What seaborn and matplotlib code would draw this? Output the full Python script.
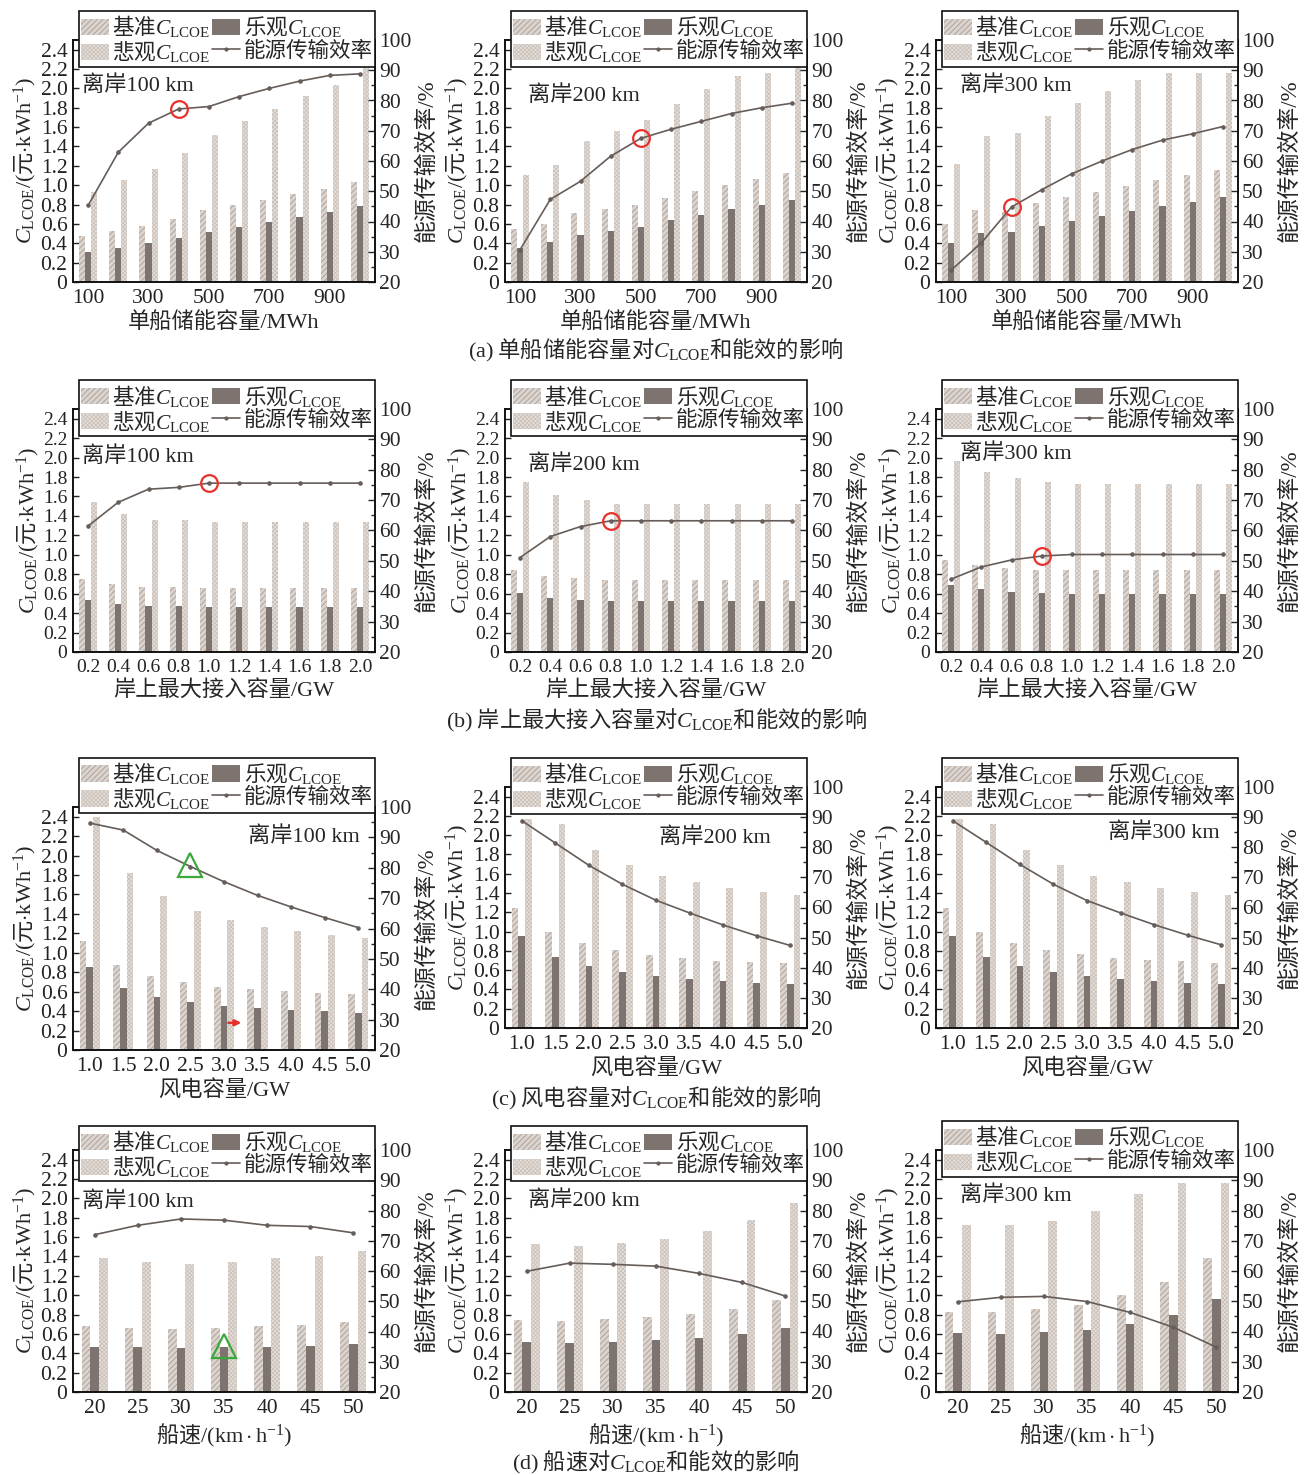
import numpy as np
import pandas as pd
import matplotlib
matplotlib.use("Agg")
import matplotlib.pyplot as plt
import seaborn as sns
from matplotlib.patches import Patch
from matplotlib.lines import Line2D
from matplotlib.ticker import MultipleLocator, FixedLocator

sns.set_theme(style="ticks")
plt.rcParams["font.family"] = ["Liberation Serif", "Noto Sans CJK SC"]
# strings mixing Chinese and math: the CJK face carries the plain text,
# serif faces carry the math symbols
plt.rcParams["mathtext.fontset"] = "custom"
plt.rcParams["mathtext.rm"] = "Noto Sans CJK SC"
plt.rcParams["mathtext.it"] = "Liberation Serif:italic"
plt.rcParams["mathtext.sf"] = "Liberation Serif"
plt.rcParams["mathtext.bf"] = "Liberation Serif:bold"
plt.rcParams["hatch.linewidth"] = 0.6
plt.rcParams["axes.unicode_minus"] = False
CJK = "Noto Sans CJK SC"

# ---------------- data ----------------
# (a) single-ship storage capacity, MWh
cap_cats = ["100", "200", "300", "400", "500", "600", "700", "800", "900", "1000"]
a1_base = [0.48, 0.53, 0.58, 0.65, 0.74, 0.80, 0.85, 0.91, 0.96, 1.03]
a1_opt = [0.31, 0.35, 0.40, 0.45, 0.52, 0.57, 0.62, 0.67, 0.72, 0.78]
a1_pes = [0.93, 1.05, 1.17, 1.33, 1.52, 1.66, 1.79, 1.92, 2.03, 2.21]
a1_eff = [45.3, 62.9, 72.5, 77.2, 78.0, 81.3, 84.0, 86.4, 88.3, 88.8]

a2_base = [0.55, 0.60, 0.71, 0.75, 0.80, 0.87, 0.94, 1.00, 1.06, 1.13]
a2_opt = [0.35, 0.41, 0.49, 0.53, 0.57, 0.64, 0.69, 0.75, 0.80, 0.85]
a2_pes = [1.11, 1.21, 1.46, 1.56, 1.67, 1.84, 1.99, 2.13, 2.16, 2.43]
a2_eff = [30.7, 47.3, 53.3, 61.6, 67.5, 70.5, 73.1, 75.7, 77.6, 79.1]

a3_base = [0.60, 0.74, 0.72, 0.82, 0.88, 0.93, 0.99, 1.05, 1.11, 1.16]
a3_opt = [0.40, 0.51, 0.52, 0.58, 0.63, 0.68, 0.73, 0.78, 0.83, 0.88]
a3_pes = [1.22, 1.51, 1.54, 1.72, 1.85, 1.97, 2.09, 2.16, 2.16, 2.16]
a3_eff = [23.9, 32.9, 44.8, 50.5, 55.8, 60.0, 63.8, 66.9, 69.0, 71.4]

# (b) maximum onshore grid-access capacity, GW
grid_cats = ["0.2", "0.4", "0.6", "0.8", "1.0", "1.2", "1.4", "1.6", "1.8", "2.0"]
b1_base = [0.75, 0.70, 0.67, 0.67, 0.66, 0.66, 0.66, 0.66, 0.66, 0.66]
b1_opt = [0.53, 0.49, 0.47, 0.47, 0.46, 0.46, 0.46, 0.46, 0.46, 0.46]
b1_pes = [1.54, 1.42, 1.36, 1.36, 1.34, 1.34, 1.34, 1.34, 1.34, 1.34]
b1_eff = [61.5, 69.3, 73.6, 74.2, 75.6, 75.6, 75.6, 75.6, 75.6, 75.6]

b2_base = [0.84, 0.78, 0.76, 0.74, 0.74, 0.74, 0.74, 0.74, 0.74, 0.74]
b2_opt = [0.61, 0.56, 0.54, 0.52, 0.52, 0.52, 0.52, 0.52, 0.52, 0.52]
b2_pes = [1.75, 1.62, 1.56, 1.52, 1.52, 1.52, 1.52, 1.52, 1.52, 1.52]
b2_eff = [51.1, 58.0, 61.3, 63.2, 63.2, 63.2, 63.2, 63.2, 63.2, 63.2]

b3_base = [0.95, 0.89, 0.86, 0.84, 0.84, 0.84, 0.84, 0.84, 0.84, 0.84]
b3_opt = [0.69, 0.65, 0.62, 0.61, 0.60, 0.60, 0.60, 0.60, 0.60, 0.60]
b3_pes = [1.97, 1.85, 1.79, 1.75, 1.73, 1.73, 1.73, 1.73, 1.73, 1.73]
b3_eff = [44.0, 48.0, 50.3, 51.6, 52.1, 52.1, 52.1, 52.1, 52.1, 52.1]

# (c) wind-power capacity, GW
wind_cats = ["1.0", "1.5", "2.0", "2.5", "3.0", "3.5", "4.0", "4.5", "5.0"]
c1_base = [1.12, 0.87, 0.76, 0.70, 0.65, 0.63, 0.61, 0.59, 0.58]
c1_opt = [0.85, 0.64, 0.55, 0.49, 0.45, 0.43, 0.41, 0.40, 0.38]
c1_pes = [2.40, 1.82, 1.58, 1.43, 1.34, 1.27, 1.22, 1.18, 1.15]
c1_eff = [94.7, 92.4, 85.7, 80.4, 75.4, 70.9, 67.1, 63.6, 60.3]

c2_base = [1.24, 1.00, 0.88, 0.81, 0.76, 0.73, 0.70, 0.68, 0.67]
c2_opt = [0.95, 0.74, 0.64, 0.58, 0.54, 0.51, 0.49, 0.47, 0.46]
c2_pes = [2.17, 2.12, 1.85, 1.69, 1.58, 1.51, 1.45, 1.41, 1.38]
c2_eff = [88.8, 81.4, 74.0, 67.7, 62.4, 58.2, 54.2, 50.6, 47.4]

c3_base = [1.24, 1.00, 0.88, 0.81, 0.77, 0.73, 0.71, 0.69, 0.67]
c3_opt = [0.95, 0.74, 0.64, 0.58, 0.54, 0.51, 0.49, 0.47, 0.46]
c3_pes = [2.17, 2.12, 1.85, 1.69, 1.58, 1.51, 1.45, 1.41, 1.38]
c3_eff = [88.8, 81.6, 74.3, 67.7, 62.3, 58.2, 54.3, 50.8, 47.6]

# (d) ship speed, km/h
speed_cats = ["20", "25", "30", "35", "40", "45", "50"]
d1_base = [0.68, 0.66, 0.65, 0.66, 0.68, 0.69, 0.72]
d1_opt = [0.47, 0.46, 0.45, 0.46, 0.47, 0.48, 0.50]
d1_pes = [1.38, 1.34, 1.32, 1.34, 1.38, 1.40, 1.46]
d1_eff = [72.0, 75.1, 77.2, 76.8, 75.1, 74.7, 72.6]

d2_base = [0.74, 0.73, 0.75, 0.77, 0.81, 0.86, 0.95]
d2_opt = [0.52, 0.51, 0.52, 0.54, 0.56, 0.60, 0.66]
d2_pes = [1.53, 1.51, 1.54, 1.58, 1.66, 1.78, 1.95]
d2_eff = [59.9, 62.6, 62.2, 61.6, 59.2, 56.2, 51.7]

d3_base = [0.83, 0.83, 0.86, 0.90, 1.00, 1.14, 1.38]
d3_opt = [0.61, 0.60, 0.62, 0.64, 0.70, 0.80, 0.96]
d3_pes = [1.73, 1.73, 1.77, 1.87, 2.05, 2.16, 2.16]
d3_eff = [49.8, 51.3, 51.6, 49.9, 46.3, 41.4, 34.8]

scenarios = ["基准", "乐观", "悲观"]
distances = ["离岸100 km", "离岸200 km", "离岸300 km"]

# ---------------- style ----------------
base_face, base_hatch = "#dbd3cd", "#a89d95"
opt_face = "#7d7470"
pes_face, pes_hatch = "#e6dfd9", "#cac1ba"
line_color = "#665d59"
CL = r"$C_{\mathsf{LCOE}}$"
YLAB = r"$C_{\mathsf{LCOE}}\mathsf{/(}$元$\mathsf{\cdot kWh}^{\mathsf{-1}}\mathsf{)}$"

W, H = 1306, 1475
fig = plt.figure(figsize=(W / 100, H / 100), dpi=100)

col_left = [73, 505, 936]
ax_w = 302


def make_axes(col, top, bottom):
    return fig.add_axes([col_left[col] / W, 1 - bottom / H, ax_w / W, (bottom - top) / H])


def draw_panel(ax, cats, base, opt, pes, eff, xlabel, xlabel_math, dist, tpos, tha,
               leg_bottom, every=1, tick_fs=15):
    n = len(cats)
    df = pd.concat([
        pd.DataFrame({"cat": cats, "scen": s, "val": v})
        for s, v in zip(scenarios, [base, opt, pes])
    ], ignore_index=True)
    sns.barplot(data=df, x="cat", y="val", hue="scen", order=cats,
                hue_order=scenarios,
                palette={"基准": base_face, "乐观": opt_face, "悲观": pes_face},
                width=0.6, saturation=1, errorbar=None, legend=False, ax=ax)
    styles = [("//////", base_hatch), (None, opt_face), ("xxxxxxxx", pes_hatch)]
    for cont, (hatch, ec) in zip(ax.containers, styles):
        for p in cont:
            if hatch:
                p.set_hatch(hatch)
            p.set_edgecolor(ec)
            p.set_linewidth(0)

    ax.set_ylim(0, 2.5)
    yt = np.round(np.arange(0, 2.41, 0.2), 1)
    ax.yaxis.set_major_locator(FixedLocator(yt))
    ax.set_yticklabels(["0"] + [f"{v:.1f}" for v in yt[1:]])
    ax.set_xticks(range(n))
    ax.set_xticklabels([c if i % every == 0 else "" for i, c in enumerate(cats)])
    ax.set_ylabel(YLAB, fontsize=16, labelpad=1, fontfamily=CJK)
    if xlabel_math:
        ax.set_xlabel(xlabel, fontsize=16, labelpad=3, fontfamily=CJK)
    else:
        ax.set_xlabel(xlabel, fontsize=16, labelpad=3)
    ax.tick_params(axis="both", direction="in", length=4, width=1,
                   labelsize=tick_fs, pad=4, colors="#222222")
    ax.tick_params(axis="x", length=5, pad=5)

    ax2 = ax.twinx()
    sns.lineplot(x=np.arange(n), y=eff, ax=ax2, color=line_color, lw=1.2,
                 marker="o", markersize=2.5, markeredgecolor=line_color)
    ax2.set_ylim(20, 100)
    ax2.yaxis.set_major_locator(MultipleLocator(10))
    ax2.yaxis.set_minor_locator(MultipleLocator(5))
    ax2.tick_params(axis="y", which="major", direction="in", length=5, width=1,
                    labelsize=15.5, pad=3)
    ax2.tick_params(axis="y", which="minor", direction="in", length=3, width=1)
    ax2.set_ylabel("能源传输效率/%", fontsize=16.5, labelpad=3)
    ax.set_xlim(-0.5, n - 0.5)
    ax2.set_xlim(-0.5, n - 0.5)
    for a in (ax, ax2):
        for sp in a.spines.values():
            sp.set_color("#111111")
            sp.set_linewidth(1.2)
            sp.set_visible(True)

    ax.text(tpos[0], tpos[1], dist, transform=ax.transAxes, fontsize=16,
            ha=tha, va="center", zorder=5)

    handles = [
        Patch(facecolor=base_face, edgecolor=base_hatch, hatch="//////", lw=0),
        Patch(facecolor=pes_face, edgecolor=pes_hatch, hatch="xxxxxxxx", lw=0),
        Patch(facecolor=opt_face, edgecolor=opt_face, lw=0),
        Line2D([], [], color=line_color, lw=1.2, marker="o", markersize=2),
    ]
    labels = ["基准" + CL, "悲观" + CL, "乐观" + CL, "能源传输效率"]
    leg = ax2.legend(handles, labels, ncol=2, loc="lower left",
                     bbox_to_anchor=(0.02, leg_bottom),
                     prop={"family": CJK, "size": 15.5},
                     frameon=True, fancybox=False, framealpha=1,
                     edgecolor="#111111", borderpad=0.1, labelspacing=0.0,
                     handlelength=1.3, handleheight=0.8, handletextpad=0.15,
                     columnspacing=0.1, borderaxespad=0)
    leg.get_frame().set_linewidth(1.2)
    leg.set_zorder(10)
    return ax2


def circle(ax2, i, v):
    ax2.plot(i, v, marker="o", markersize=12, markerfacecolor="none",
             markeredgecolor="#e8312a", markeredgewidth=1.6, zorder=6)


rows = [
    ("a", cap_cats, "单船储能容量/MWh", False, 2, [
        (a1_base, a1_opt, a1_pes, a1_eff), (a2_base, a2_opt, a2_pes, a2_eff),
        (a3_base, a3_opt, a3_pes, a3_eff)]),
    ("b", grid_cats, "岸上最大接入容量/GW", False, 1, [
        (b1_base, b1_opt, b1_pes, b1_eff), (b2_base, b2_opt, b2_pes, b2_eff),
        (b3_base, b3_opt, b3_pes, b3_eff)]),
    ("c", wind_cats, "风电容量/GW", False, 1, [
        (c1_base, c1_opt, c1_pes, c1_eff), (c2_base, c2_opt, c2_pes, c2_eff),
        (c3_base, c3_opt, c3_pes, c3_eff)]),
    ("d", speed_cats, r"船速$\mathsf{/(km\cdot h}^{\mathsf{-1}}\mathsf{)}$", True, 1, [
        (d1_base, d1_opt, d1_pes, d1_eff), (d2_base, d2_opt, d2_pes, d2_eff),
        (d3_base, d3_opt, d3_pes, d3_eff)]),
]

frames = {
    "a": [(40, 282), (40, 282), (40, 282)],
    "b": [(409, 652), (409, 652), (409, 652)],
    "c": [(807, 1050), (787, 1028), (787, 1028)],
    "d": [(1150, 1392), (1150, 1392), (1150, 1392)],
}
text_pos = {
    "a": [((0.03, 0.81), "left"), ((0.075, 0.77), "left"), ((0.08, 0.81), "left")],
    "b": [((0.03, 0.805), "left"), ((0.075, 0.77), "left"), ((0.08, 0.815), "left")],
    "c": [((0.95, 0.88), "right"), ((0.88, 0.79), "right"), ((0.94, 0.81), "right")],
    "d": [((0.03, 0.785), "left"), ((0.075, 0.79), "left"), ((0.08, 0.81), "left")],
}
leg_bottoms = {
    "a": [0.89, 0.89, 0.89],
    "b": [0.89, 0.89, 0.89],
    "c": [0.975, 0.89, 0.89],
    "d": [0.87, 0.87, 0.89],
}

twins = {}
for key, cats, xlabel, xmath, every, series in rows:
    for col in range(3):
        top, bottom = frames[key][col]
        ax = make_axes(col, top, bottom)
        b, o, p, e = series[col]
        tp, tha = text_pos[key][col]
        fs = 14 if key == "b" else 15.5
        ax2 = draw_panel(ax, cats, b, o, p, e, xlabel, xmath, distances[col], tp, tha,
                         leg_bottoms[key][col], every=every, tick_fs=fs)
        twins[(key, col)] = (ax, ax2)

# highlighted operating points
circle(twins[("a", 0)][1], 3, a1_eff[3])
circle(twins[("a", 1)][1], 4, a2_eff[4])
circle(twins[("a", 2)][1], 2, a3_eff[2])
circle(twins[("b", 0)][1], 4, b1_eff[4])
circle(twins[("b", 1)][1], 3, b2_eff[3])
circle(twins[("b", 2)][1], 3, b3_eff[3])

c1_ax, c1_ax2 = twins[("c", 0)]
c1_ax2.plot(3, 81.0, marker="^", markersize=17, markerfacecolor="none",
            markeredgecolor="#3aa83a", markeredgewidth=1.6, zorder=6)
c1_ax.annotate("", xy=(4.6, 0.28), xytext=(4.05, 0.28),
               arrowprops=dict(arrowstyle="-|>", color="#e8312a", lw=1.8,
                               mutation_scale=9), zorder=6)
d1_ax, d1_ax2 = twins[("d", 0)]
d1_ax.plot(3, 0.48, marker="^", markersize=17, markerfacecolor="none",
           markeredgecolor="#3aa83a", markeredgewidth=1.6, zorder=6)

# sub-figure captions
caps = [
    (350, r"$\mathsf{(a)}$ 单船储能容量对" + CL + "和能效的影响"),
    (720, r"$\mathsf{(b)}$ 岸上最大接入容量对" + CL + "和能效的影响"),
    (1098, r"$\mathsf{(c)}$ 风电容量对" + CL + "和能效的影响"),
    (1462, r"$\mathsf{(d)}$ 船速对" + CL + "和能效的影响"),
]
for y, t in caps:
    fig.text(656 / W, 1 - y / H, t, ha="center", va="center", fontsize=16,
             fontfamily=CJK)

fig.savefig("out.png", dpi=100, facecolor="white")
